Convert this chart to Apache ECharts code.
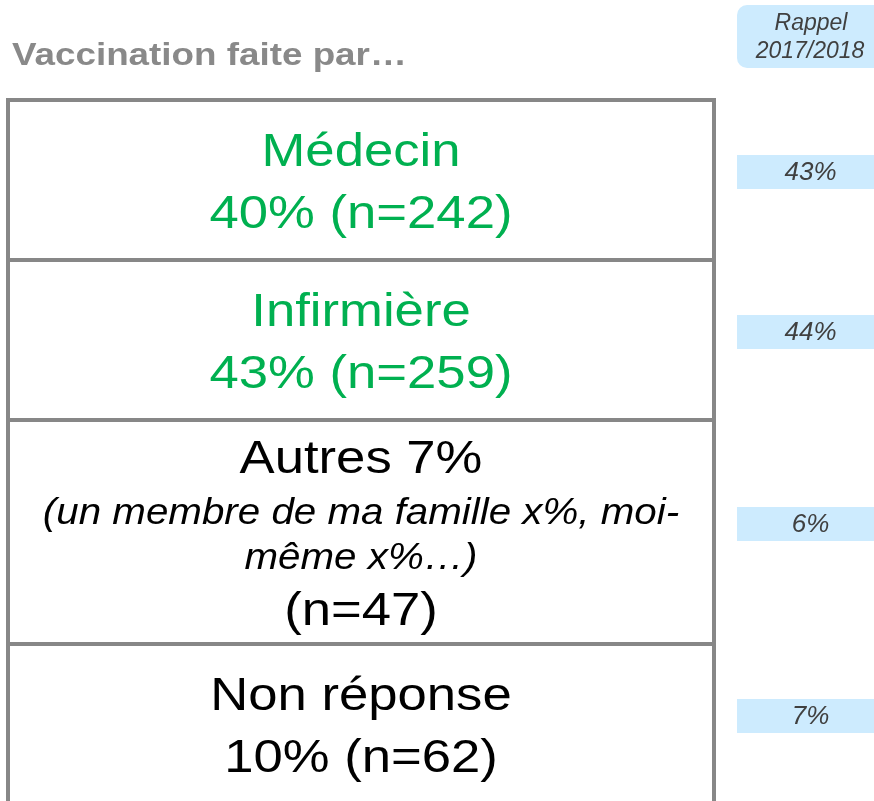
<!DOCTYPE html>
<html>
<head>
<meta charset="utf-8">
<script src="https://cdn.jsdelivr.net/npm/echarts/dist/echarts.min.js"></script>
<style>
  html, body { margin: 0; padding: 0; background: #ffffff; }
  #chart { width: 874px; height: 801px; }
</style>
</head>
<body>
<div id="chart"></div>
<script>
// ---- Data ----
const title = 'Vaccination faite par…';
const recallTitle = ['Rappel', '2017/2018'];
const categories = ['Médecin', 'Infirmière', 'Autres', 'Non réponse'];
const shares = [40, 43, 7, 10];
const counts = [242, 259, 47, 62];
const recallShares = [43, 44, 6, 7];
const notes = [[], [], ['(un membre de ma famille x%, moi-', 'même x%…)'], []];
const highlighted = [true, true, false, false];

// ---- Style / layout constants ----
const FONT = '"Liberation Sans", Arial, sans-serif';
const STRETCH = 1.12;
const BIG_SIZE = 47, SMALL_SIZE = 36;
const BIG_LH = 62, SMALL_LH = 45;
const MIN_ROW = 160, ROW_PAD = 10, TEXT_DY = 4;
const GREEN = '#00B050', BORDER = '#878787', BLUE = '#CDEBFE';

function rowLines(i) {
  if (notes[i].length) {
    return [{ text: categories[i] + ' ' + shares[i] + '%', kind: 'big' }]
      .concat(notes[i].map(t => ({ text: t, kind: 'small' })))
      .concat([{ text: '(n=' + counts[i] + ')', kind: 'big' }]);
  }
  return [
    { text: categories[i], kind: 'big' },
    { text: shares[i] + '% (n=' + counts[i] + ')', kind: 'big' }
  ];
}
const lines = categories.map((c, i) => rowLines(i));
const contentH = lines.map(ls => ls.reduce((s, l) => s + (l.kind === 'big' ? BIG_LH : SMALL_LH), 0));
const rowH = contentH.map(h => Math.max(MIN_ROW, h + ROW_PAD));
const rowStart = [];
rowH.reduce((acc, h, i) => { rowStart[i] = acc; return acc + h; }, 0);
const total = rowH.reduce((a, b) => a + b, 0);

const chart = echarts.init(document.getElementById('chart'), null, { renderer: 'canvas' });

function textEl(x, y, text, size, opts) {
  return {
    type: 'text', x: x, y: y, scaleX: opts.stretch || 1,
    style: {
      text: text, x: 0, y: 0,
      font: (opts.style || 'normal') + ' ' + (opts.weight || 'normal') + ' ' + size + 'px ' + FONT,
      fill: opts.fill || '#000', align: opts.align || 'center', verticalAlign: 'middle'
    }
  };
}

const option = {
  animation: false,
  backgroundColor: '#ffffff',
  grid: [
    { left: 8, width: 706, top: 100, height: total, outerBoundsMode: 'none', containLabel: false },
    { left: 737, width: 147, top: 100, height: total, outerBoundsMode: 'none', containLabel: false }
  ],
  xAxis: [
    { type: 'value', gridIndex: 0, min: 0, max: 1, show: false },
    { type: 'value', gridIndex: 1, min: 0, max: 1, show: false }
  ],
  yAxis: [
    { type: 'value', gridIndex: 0, min: 0, max: total, inverse: true, show: false },
    { type: 'value', gridIndex: 1, min: 0, max: total, inverse: true, show: false }
  ],
  graphic: [
    textEl(12, 56, title, 32, { weight: 'bold', fill: '#898989', align: 'left', stretch: 1.15 }),
    { type: 'rect', shape: { x: 737, y: 5, width: 160, height: 63, r: 10 }, style: { fill: BLUE } },
    textEl(811, 24, recallTitle[0], 23, { style: 'italic', fill: '#404040' }),
    textEl(810, 52, recallTitle[1], 23, { style: 'italic', fill: '#404040' })
  ],
  series: [
    {
      type: 'custom', xAxisIndex: 0, yAxisIndex: 0, clip: false,
      data: categories.map((c, i) => [0, i]),
      renderItem: function (params, api) {
        const i = params.dataIndex;
        const y0 = rowStart[i], y1 = y0 + rowH[i];
        const p0 = api.coord([0, y0]);
        const p1 = api.coord([1, y1]);
        const children = [{
          type: 'rect',
          shape: { x: p0[0], y: p0[1], width: p1[0] - p0[0], height: p1[1] - p0[1] },
          style: { fill: '#ffffff', stroke: BORDER, lineWidth: 4 }
        }];
        let cy = (y0 + y1) / 2 - contentH[i] / 2 + TEXT_DY;
        const color = highlighted[i] ? GREEN : '#000000';
        lines[i].forEach(l => {
          const lh = l.kind === 'big' ? BIG_LH : SMALL_LH;
          const p = api.coord([0.5, cy + lh / 2]);
          children.push(textEl(p[0], p[1], l.text, l.kind === 'big' ? BIG_SIZE : SMALL_SIZE,
            { style: l.kind === 'big' ? 'normal' : 'italic', fill: color, stretch: STRETCH }));
          cy += lh;
        });
        return { type: 'group', children: children };
      }
    },
    {
      type: 'custom', xAxisIndex: 1, yAxisIndex: 1, clip: false,
      data: recallShares.map((v, i) => [v, i]),
      renderItem: function (params, api) {
        const i = params.dataIndex;
        const c = rowStart[i] + rowH[i] / 2 - 8;
        const p0 = api.coord([0, c - 17]);
        const p1 = api.coord([1, c + 17]);
        const pc = api.coord([0.5, c]);
        return {
          type: 'group',
          children: [
            { type: 'rect', shape: { x: p0[0], y: p0[1], width: p1[0] - p0[0], height: p1[1] - p0[1] }, style: { fill: BLUE } },
            textEl(pc[0], pc[1] + 1, recallShares[i] + '%', 26, { style: 'italic', fill: '#404040' })
          ]
        };
      }
    }
  ]
};
chart.setOption(option);
</script>
</body>
</html>
